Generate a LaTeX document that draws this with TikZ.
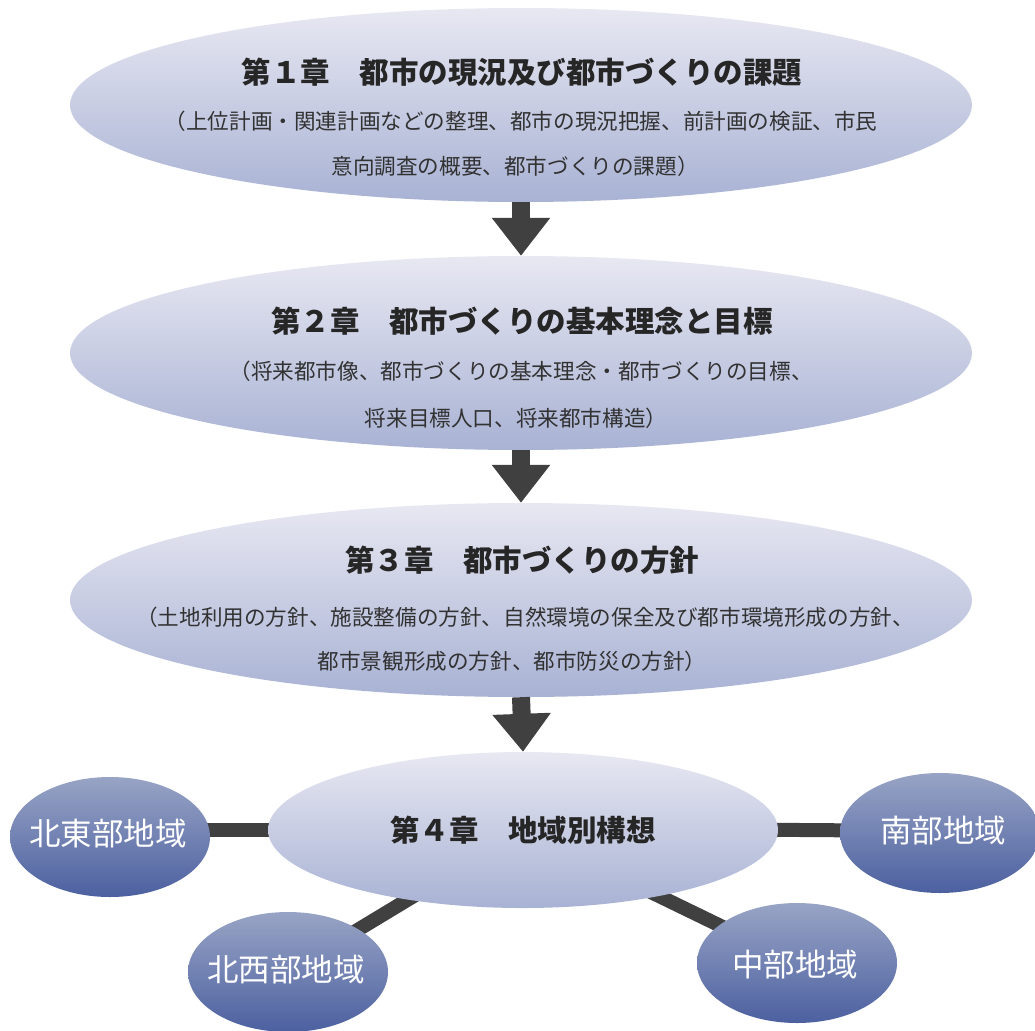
\documentclass[tikz,border=0pt]{standalone}
\usepackage{fontspec}
\setmainfont{Noto Sans CJK JP}
\usetikzlibrary{shapes.geometric,arrows.meta,backgrounds}
\definecolor{bigtop}{RGB}{232,232,242}
\definecolor{bigbot}{RGB}{168,178,212}
\definecolor{smtop}{RGB}{152,164,197}
\definecolor{smbot}{RGB}{76,96,160}
\definecolor{ink}{RGB}{38,38,38}
\definecolor{ink2}{RGB}{50,50,50}
\definecolor{arr}{RGB}{64,64,64}
\begin{document}
\begin{tikzpicture}[x=1pt,y=-1pt,
 big/.style={ellipse, minimum width=902pt, minimum height=194pt, inner sep=0pt, top color=bigtop, bottom color=bigbot, draw=none},
 mid/.style={ellipse, minimum width=510pt, minimum height=156pt, inner sep=0pt, top color=bigtop, bottom color=bigbot, draw=none},
 small/.style={ellipse, minimum width=200pt, minimum height=120pt, inner sep=0pt, top color=smtop, bottom color=smbot, draw=none},
 smalltxt/.style={text=white, inner sep=0pt, font=\fontsize{31.5}{36}\selectfont},
 ttl/.style={font=\bfseries\fontsize{29.5}{34}\selectfont, text=ink, inner sep=0pt},
 sub/.style={font=\fontsize{21.6}{26}\selectfont, text=ink2, inner sep=0pt},
 flow/.style={draw=arr, line width=18pt, -{Triangle[width=56pt,length=38pt]}},
 conn/.style={draw=arr, line width=14pt}]
\useasboundingbox (0,0) rectangle (1035,1030);

\node[big] (e1) at (521,105) {};
\node[big] (e2) at (521,353) {};
\node[big] (e3) at (521,600) {};
\node[mid] (e4) at (523,830) {};

\node[small] (ne) at (110,837) {};
\node[small] (nw) at (288,972) {};
\node[small] (so) at (940,833) {};
\node[small] (ce) at (797,963) {};
\node[smalltxt] (nel) at (108,834) {北東部地域};
\node[smalltxt] (nwl) at (286,970) {北西部地域};
\node[smalltxt] (sol) at (943,831) {南部地域};
\node[smalltxt] (cel) at (795,965) {中部地域};

\node[ttl] (t1) at (522,72) {第１章　都市の現況及び都市づくりの課題};
\node[sub] (s1a) at (521,121) {（上位計画・関連計画などの整理、都市の現況把握、前計画の検証、市民};
\node[sub] (s1b) at (515,166) {意向調査の概要、都市づくりの課題）};

\node[ttl] (t2) at (522,321) {第２章　都市づくりの基本理念と目標};
\node[sub] (s2a) at (521,371) {（将来都市像、都市づくりの基本理念・都市づくりの目標、};
\node[sub] (s2b) at (516,418) {将来目標人口、将来都市構造）};

\node[ttl] (t3) at (522,560) {第３章　都市づくりの方針};
\node[sub] (s3a) at (525,617) {（土地利用の方針、施設整備の方針、自然環境の保全及び都市環境形成の方針、};
\node[sub] (s3b) at (512,661) {都市景観形成の方針、都市防災の方針）};

\node[ttl] (t4) at (523,830) {第４章　地域別構想};

\draw[flow] (e1.south) -- (e2.north);
\draw[flow] (e2.south) -- (e3.north);
\draw[flow] (e3.south) -- (e4.north);

\begin{pgfonlayer}{background}
\draw[conn] ([yshift=7pt]ne.center) -- (e4.center);
\draw[conn] ([yshift=2pt]e4.center) -- ([yshift=2pt]so.center);
\draw[conn] (e4.center) -- (nw.center);
\draw[conn] (e4.center) -- (ce.center);
\end{pgfonlayer}
\end{tikzpicture}
\end{document}
